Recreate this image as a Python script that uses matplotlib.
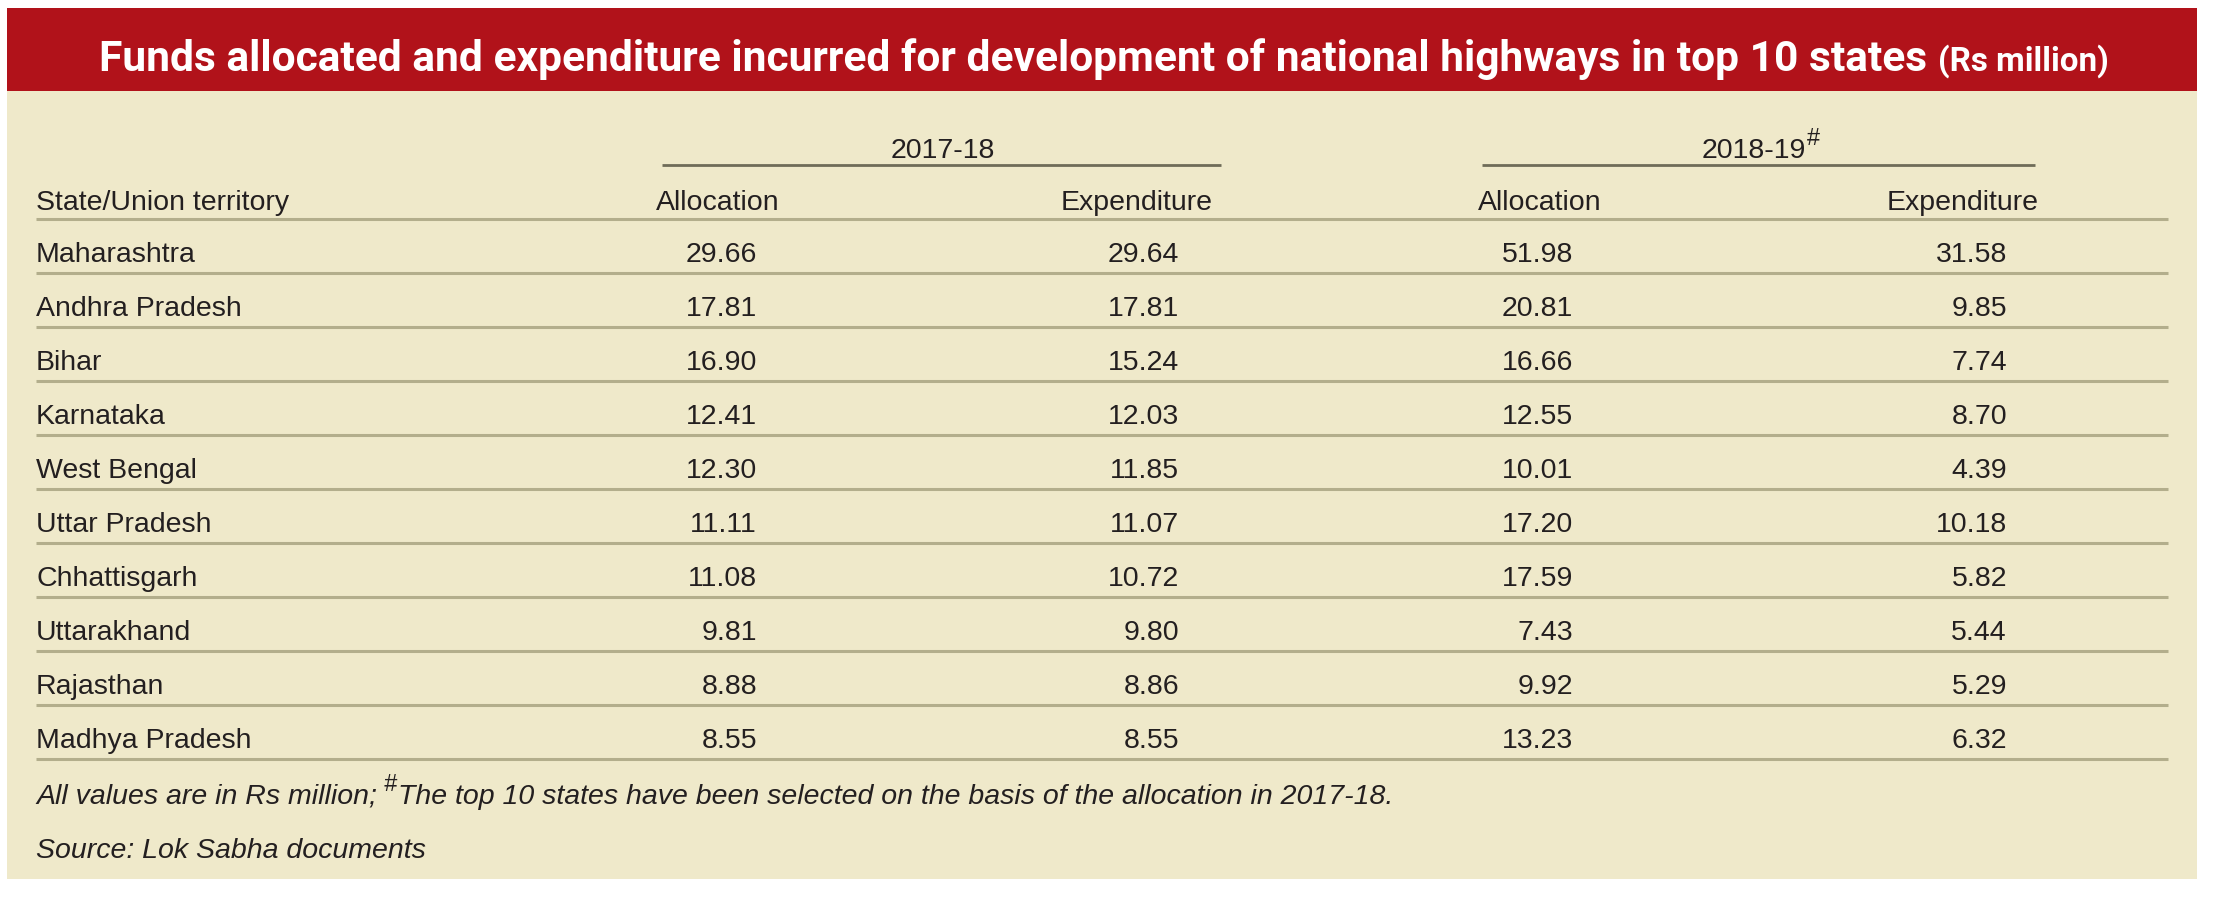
import matplotlib
matplotlib.use("Agg")
import matplotlib.pyplot as plt
from matplotlib.patches import Rectangle

# ---------------- data ----------------
states = ["Maharashtra", "Andhra Pradesh", "Bihar", "Karnataka", "West Bengal",
          "Uttar Pradesh", "Chhattisgarh", "Uttarakhand", "Rajasthan", "Madhya Pradesh"]
alloc_2017_18 = [29.66, 17.81, 16.90, 12.41, 12.30, 11.11, 11.08, 9.81, 8.88, 8.55]
exp_2017_18 = [29.64, 17.81, 15.24, 12.03, 11.85, 11.07, 10.72, 9.80, 8.86, 8.55]
alloc_2018_19 = [51.98, 20.81, 16.66, 12.55, 10.01, 17.20, 17.59, 7.43, 9.92, 13.23]
exp_2018_19 = [31.58, 9.85, 7.74, 8.70, 4.39, 10.18, 5.82, 5.44, 5.29, 6.32]

title_main = "Funds allocated and expenditure incurred for development of national highways in top 10 states"
title_unit = "(Rs million)"
year_labels = ["2017-18", "2018-19"]
year_marks = ["", "#"]
col_labels = ["State/Union territory", "Allocation", "Expenditure", "Allocation", "Expenditure"]
note_parts = ["All values are in Rs million;", "#", "The top 10 states have been selected on the basis of the allocation in 2017-18."]
source_text = "Source: Lok Sabha documents"

# ---------------- style ----------------
RED = "#B1121A"
BEIGE = "#EFE9CA"
TXT = "#231F20"
ROWLINE = "#B3AE8C"
YEARLINE = "#6F6C58"
BODY = ["Liberation Sans", "DejaVu Sans"]
TITLEF = ["Roboto", "Liberation Sans", "DejaVu Sans"]

W, H = 2220, 904
fig = plt.figure(figsize=(W / 100, H / 100), dpi=100, facecolor="white")
ax = fig.add_axes([0, 0, 1, 1])
ax.set_xlim(0, W)
ax.set_ylim(H, 0)
ax.axis("off")
renderer = fig.canvas.get_renderer()


def right_px(t):
    return t.get_window_extent(renderer).x1


# panel + banner
ax.add_patch(Rectangle((7, 92), 2190, 788, facecolor=BEIGE, edgecolor="none", zorder=0))
ax.add_patch(Rectangle((7, 9), 2190, 83, facecolor=RED, edgecolor="none", zorder=1))

# title (main + unit), fitted to the banner text span
t_left, t_right = 99, 2107
fs_main = 34
unit_ratio = 0.78
gap_ratio = 0.25
for _ in range(4):
    tm = ax.text(t_left, 71, title_main, family=TITLEF, weight="bold", color="white",
                 fontsize=fs_main, ha="left", va="baseline", zorder=3)
    x_after = right_px(tm) + fs_main * gap_ratio * 100 / 72
    tu = ax.text(x_after, 71, title_unit, family=TITLEF, weight="bold", color="white",
                 fontsize=fs_main * unit_ratio, ha="left", va="baseline", zorder=3)
    total = right_px(tu) - tm.get_window_extent(renderer).x0
    scale = (t_right - t_left) / total
    if abs(scale - 1) < 0.002:
        break
    tm.remove(); tu.remove()
    fs_main *= scale

# column geometry
num_right = [757, 1179, 1573, 2007]
hdr_center = [718, 1137, 1540, 1963]
year_center = [943, 1760]
year_lines = [(662, 1221), (1482, 2035)]
left_x = 36
line_right = 2168

FS = 20.5
SUP = FS * 0.82
# year headers
for lab, mark, xc, (x0, x1) in zip(year_labels, year_marks, year_center, year_lines):
    t = ax.text(xc, 158, lab, family=BODY, fontsize=FS, color=TXT, ha="center", va="baseline")
    if mark:
        ex = t.get_window_extent(renderer)
        m = ax.text(ex.x1 + 1, 145, mark, family=BODY, fontsize=SUP, color=TXT,
                    ha="left", va="baseline")
        mw = m.get_window_extent(renderer).width
        t.set_x(xc - mw / 2)
        ex = t.get_window_extent(renderer)
        m.set_x(ex.x1 + 1)
    ax.plot([x0, x1], [166, 166], color=YEARLINE, lw=2.0, solid_capstyle="butt")

# column headers
ax.text(left_x, 210, col_labels[0], family=BODY, fontsize=FS, color=TXT, ha="left", va="baseline")
for lab, xc in zip(col_labels[1:], hdr_center):
    ax.text(xc, 210, lab, family=BODY, fontsize=FS, color=TXT, ha="center", va="baseline")
ax.plot([left_x, line_right], [220, 220], color=ROWLINE, lw=2.2, solid_capstyle="butt")

# rows
pitch = 54
series = [alloc_2017_18, exp_2017_18, alloc_2018_19, exp_2018_19]
for i, st in enumerate(states):
    yb = 262 + pitch * i
    ax.text(left_x, yb, st, family=BODY, fontsize=FS, color=TXT, ha="left", va="baseline")
    for vals, xr in zip(series, num_right):
        ax.text(xr, yb, f"{vals[i]:.2f}", family=BODY, fontsize=FS, color=TXT,
                ha="right", va="baseline")
    yl = 274 + pitch * i
    ax.plot([left_x, line_right], [yl, yl], color=ROWLINE, lw=2.2, solid_capstyle="butt")

# footnotes
p1 = ax.text(left_x, 804, note_parts[0], family=BODY, style="italic", fontsize=FS, color=TXT,
             ha="left", va="baseline")
x = right_px(p1) + 7
p2 = ax.text(x, 791, note_parts[1], family=BODY, style="italic", fontsize=SUP, color=TXT,
             ha="left", va="baseline")
x = right_px(p2) + 1
ax.text(x, 804, note_parts[2], family=BODY, style="italic", fontsize=FS, color=TXT,
        ha="left", va="baseline")
ax.text(left_x, 858, source_text, family=BODY, style="italic", fontsize=FS, color=TXT,
        ha="left", va="baseline")

fig.savefig("out.png", dpi=100, facecolor="white")
